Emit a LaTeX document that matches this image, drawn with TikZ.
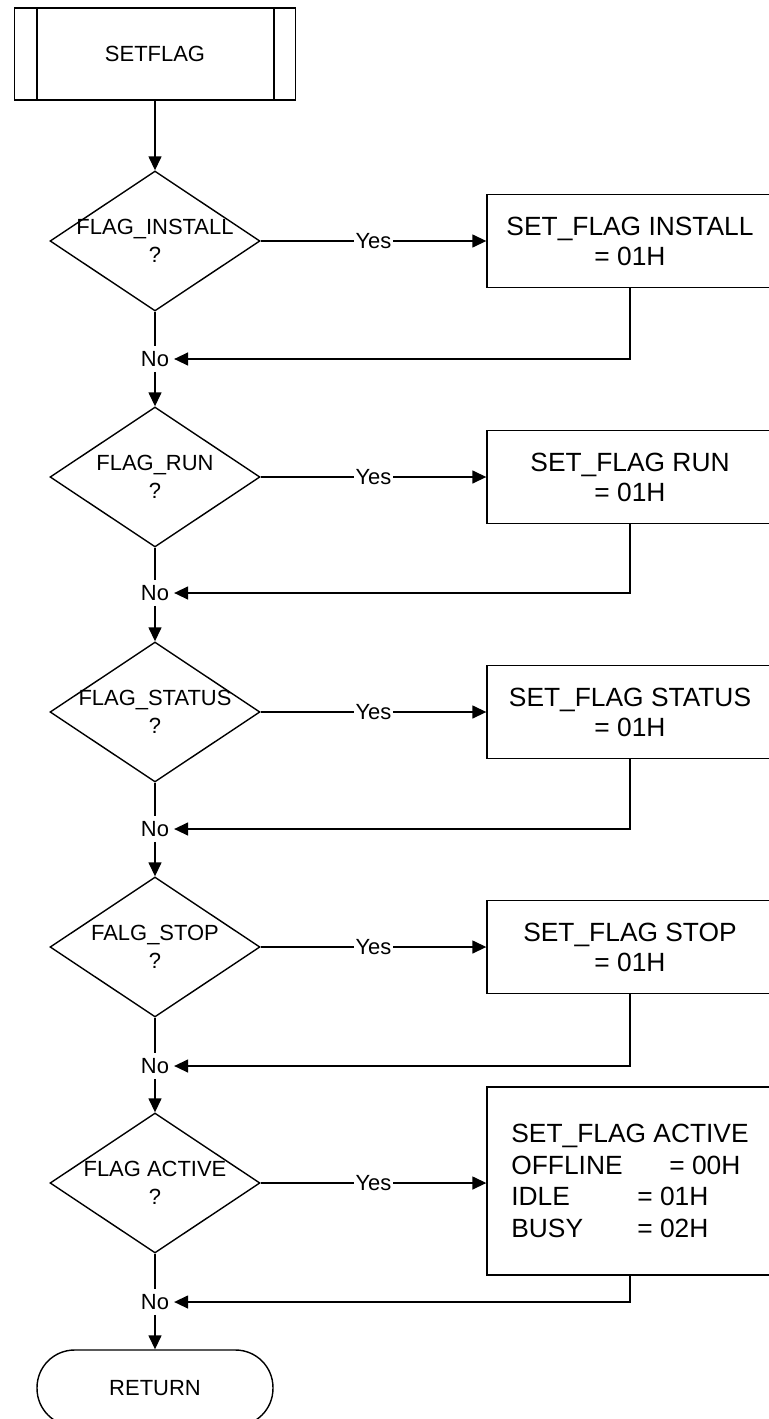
\documentclass[tikz,border=0pt]{standalone}
\usepackage{fontspec}
\setmainfont{Liberation Sans}
\usetikzlibrary{shapes.geometric, arrows.meta, positioning, calc}

\begin{document}
\begin{tikzpicture}[
    x=0.02cm, y=-0.02cm, line width=0.8pt,
    subproc/.style={rectangle, draw, minimum width=5.62cm, minimum height=1.84cm, font=\fontsize{12.5}{15}\selectfont},
    decision/.style={diamond, draw, minimum width=4.2cm, minimum height=2.8cm, inner sep=0pt},
    dtext/.style={align=center, inner sep=0pt, font=\fontsize{12.5}{16}\selectfont},
    process/.style={rectangle, draw, minimum width=5.72cm, minimum height=1.86cm, align=center, font=\fontsize{15}{17}\selectfont},
    terminal/.style={rectangle, draw, rounded corners=0.75cm, minimum width=4.72cm, minimum height=1.52cm, font=\fontsize{12.5}{15}\selectfont},
    answer/.style={fill=white, inner sep=2.5pt, font=\fontsize{12.5}{15}\selectfont},
    flow/.style={-{Triangle[length=0.28cm, width=0.26cm]}}
  ]
    \useasboundingbox (0,0) rectangle (768,1419);

    \node[subproc] (sf) at (155,54) {SETFLAG};
    \draw ([xshift=0.46cm]sf.north west) -- ([xshift=0.46cm]sf.south west);
    \draw ([xshift=-0.44cm]sf.north east) -- ([xshift=-0.44cm]sf.south east);

    \node[decision] (d1) at (155,241) {};
    \node[dtext] (t1) at (d1) {FLAG\_INSTALL\\?};
    \node[process] (r1) at (630,241) {SET\_FLAG INSTALL\\= 01H};
    \node[answer] (n1) at (155,359) {No};

    \node[decision] (d2) at (155,477) {};
    \node[dtext] (t2) at (d2) {FLAG\_RUN\\?};
    \node[process] (r2) at (630,477) {SET\_FLAG RUN\\= 01H};
    \node[answer] (n2) at (155,593) {No};

    \node[decision] (d3) at (155,712) {};
    \node[dtext] (t3) at (d3) {FLAG\_STATUS\\?};
    \node[process] (r3) at (630,712) {SET\_FLAG STATUS\\= 01H};
    \node[answer] (n3) at (155,829) {No};

    \node[decision] (d4) at (155,947) {};
    \node[dtext] (t4) at (d4) {FALG\_STOP\\?};
    \node[process] (r4) at (630,947) {SET\_FLAG STOP\\= 01H};
    \node[answer] (n4) at (155,1066) {No};

    \node[decision] (d5) at (155,1183) {};
    \node[dtext] (t5) at (d5) {FLAG ACTIVE\\?};
    \node[process, align=left, minimum height=3.76cm, font=\fontsize{15}{18}\selectfont] (r5) at (630,1181)
      {SET\_FLAG ACTIVE\\ \makebox[3.16cm][l]{OFFLINE}= 00H\\ \makebox[2.52cm][l]{IDLE}= 01H\\ \makebox[2.52cm][l]{BUSY}= 02H};
    \node[answer] (n5) at (155,1302) {No};

    \node[terminal] (ret) at (155,1388) {RETURN};

    \draw[flow] (sf.south) -- (d1.north);
    \draw[flow] (d1.east) -- node[answer, inner sep=1pt] (y1) {Yes} (d1.east -| r1.west);
    \draw (d1.south) -- (n1.north);
    \draw[flow] (r1.south) |- (n1.east);
    \draw[flow] (n1.south) -- (d2.north);

    \draw[flow] (d2.east) -- node[answer, inner sep=1pt] (y2) {Yes} (d2.east -| r2.west);
    \draw (d2.south) -- (n2.north);
    \draw[flow] (r2.south) |- (n2.east);
    \draw[flow] (n2.south) -- (d3.north);

    \draw[flow] (d3.east) -- node[answer, inner sep=1pt] (y3) {Yes} (d3.east -| r3.west);
    \draw (d3.south) -- (n3.north);
    \draw[flow] (r3.south) |- (n3.east);
    \draw[flow] (n3.south) -- (d4.north);

    \draw[flow] (d4.east) -- node[answer, inner sep=1pt] (y4) {Yes} (d4.east -| r4.west);
    \draw (d4.south) -- (n4.north);
    \draw[flow] (r4.south) |- (n4.east);
    \draw[flow] (n4.south) -- (d5.north);

    \draw[flow] (d5.east) -- node[answer, inner sep=1pt] (y5) {Yes} (d5.east -| r5.west);
    \draw (d5.south) -- (n5.north);
    \draw[flow] (r5.south) |- (n5.east);
    \draw[flow] (n5.south) -- (ret.north);
  \end{tikzpicture}
\end{document}
